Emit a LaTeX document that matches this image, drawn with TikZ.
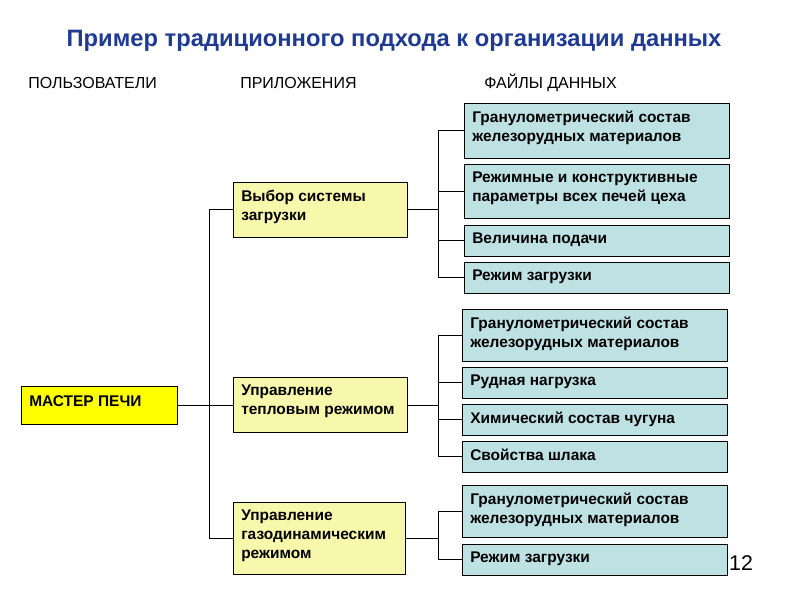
\documentclass[tikz,border=0pt]{standalone}
\usepackage{fontspec}
\setmainfont{Liberation Sans}
\definecolor{titleblue}{HTML}{1F3A93}
\definecolor{appfill}{HTML}{F8F8AC}
\definecolor{filefill}{HTML}{BEE1E4}
\definecolor{masterfill}{HTML}{FFFF00}
\tikzset{
  box/.style={draw, line width=0.7pt, inner sep=0pt, outer sep=0pt},
  boxtext/.style={anchor=north west, inner xsep=6pt, inner ysep=5.6pt, align=left,
    font=\fontsize{11.6}{14.25}\selectfont\bfseries},
  app/.style={box, fill=appfill, minimum width=130.5pt},
  datafile/.style={box, fill=filefill, minimum width=198.75pt},
  head/.style={anchor=west, inner sep=0pt, font=\fontsize{12}{14}\selectfont},
  link/.style={line width=0.6pt},
}
\begin{document}
\begin{tikzpicture}[x=0.75pt, y=-0.75pt]
  \fill[white] (0,0) rectangle (800,600);
  \useasboundingbox (0,0) rectangle (800,600);
  \node[text=titleblue, font=\fontsize{17.8}{20}\selectfont\bfseries] (title) at (394,41)
    {Пример традиционного подхода к организации данных};
  \node[head] (users) at (28,83) {ПОЛЬЗОВАТЕЛИ};
  \node[head] (apps) at (240,83) {ПРИЛОЖЕНИЯ};
  \node[head] (files) at (484,83) {ФАЙЛЫ ДАННЫХ};
  % users and applications
  \node[box, fill=masterfill, minimum width=117pt, minimum height=28.5pt] (master) at (99,405) {};
  \node[app, minimum height=41.25pt] (a1) at (320,209.5) {};
  \node[app, minimum height=41.25pt] (a2) at (320,405) {};
  \node[app, minimum width=129pt, minimum height=54pt] (a3) at (319,538) {};
  % data files
  \node[datafile, minimum height=41.25pt] (f1) at (596.5,130.5) {};
  \node[datafile, minimum height=40.5pt] (f2) at (596.5,191) {};
  \node[datafile, minimum height=23.25pt] (f3) at (596.5,240.5) {};
  \node[datafile, minimum height=23.25pt] (f4) at (596.5,277.5) {};
  \node[datafile, minimum height=39pt] (f5) at (594.5,335) {};
  \node[datafile, minimum height=23.25pt] (f6) at (594.5,382.5) {};
  \node[datafile, minimum height=23.25pt] (f7) at (594.5,419.5) {};
  \node[datafile, minimum height=23.25pt] (f8) at (594.5,456.5) {};
  \node[datafile, minimum height=39pt] (f9) at (594.5,511) {};
  \node[datafile, minimum height=23.25pt] (f10) at (594.5,559.5) {};
  % texts
  \node[boxtext, inner ysep=6.8pt] (mastert) at (master.north west) {МАСТЕР ПЕЧИ};
  \node[boxtext] (a1t) at (a1.north west) {Выбор системы\\загрузки};
  \node[boxtext] (a2t) at (a2.north west) {Управление\\тепловым режимом};
  \node[boxtext] (a3t) at (a3.north west) {Управление\\газодинамическим\\режимом};
  \node[boxtext] (f1t) at (f1.north west) {Гранулометрический состав\\железорудных материалов};
  \node[boxtext] (f2t) at (f2.north west) {Режимные и конструктивные\\параметры всех печей цеха};
  \node[boxtext] (f3t) at (f3.north west) {Величина подачи};
  \node[boxtext] (f4t) at (f4.north west) {Режим загрузки};
  \node[boxtext] (f5t) at (f5.north west) {Гранулометрический состав\\железорудных материалов};
  \node[boxtext] (f6t) at (f6.north west) {Рудная нагрузка};
  \node[boxtext] (f7t) at (f7.north west) {Химический состав чугуна};
  \node[boxtext] (f8t) at (f8.north west) {Свойства шлака};
  \node[boxtext] (f9t) at (f9.north west) {Гранулометрический состав\\железорудных материалов};
  \node[boxtext] (f10t) at (f10.north west) {Режим загрузки};
  \node[font=\fontsize{16}{18}\selectfont] (page) at (741,563) {12};
  % connectors
  \coordinate (trunk) at (209,0);
  \coordinate (bus) at (438,0);
  \draw[link] (master.east) -- (a2.west);
  \draw[link] (a1.west) -- (a1.west -| trunk) -- (a3.west -| trunk) -- (a3.west);
  \draw[link] (f1.west) -- (f1.west -| bus) -- (f4.west -| bus) -- (f4.west);
  \draw[link] (f5.west) -- (f5.west -| bus) -- (f8.west -| bus) -- (f8.west);
  \draw[link] (f9.west) -- (f9.west -| bus) -- (f10.west -| bus) -- (f10.west);
  \foreach \f in {f2,f3,f6,f7}
    \draw[link] (\f.west) -- (\f.west -| bus);
  \foreach \a in {a1,a2,a3}
    \draw[link] (\a.east) -- (\a.east -| bus);
\end{tikzpicture}
\end{document}
